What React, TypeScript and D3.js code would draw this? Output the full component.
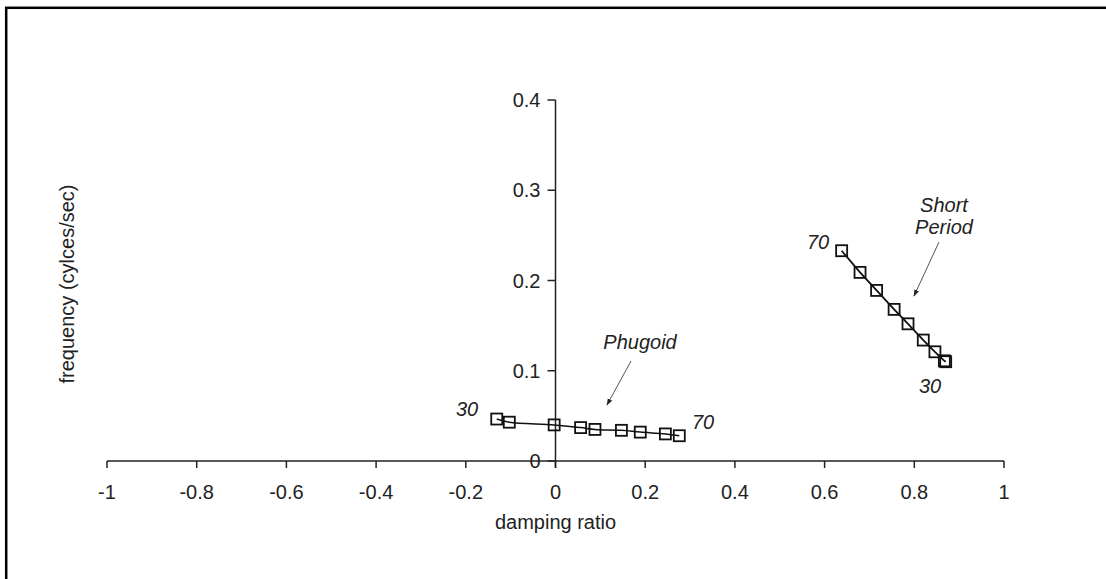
import React from "react";
import * as d3 from "d3";

const xTicks = [-1, -0.8, -0.6, -0.4, -0.2, 0, 0.2, 0.4, 0.6, 0.8, 1];
const yTicks = [0, 0.1, 0.2, 0.3, 0.4];

// Phugoid mode (speed 30 -> 70)
const phugoidDamping = [-0.131, -0.103, -0.003, 0.056, 0.088, 0.147, 0.189, 0.245, 0.276];
const phugoidFreq = [0.0465, 0.043, 0.040, 0.037, 0.035, 0.034, 0.032, 0.030, 0.028];

// Short period mode (speed 70 -> 30)
const shortDamping = [0.638, 0.679, 0.716, 0.755, 0.786, 0.82, 0.846, 0.867, 0.87];
const shortFreq = [0.233, 0.209, 0.189, 0.168, 0.152, 0.134, 0.121, 0.111, 0.110];

const W = 1106;
const H = 579;

export default function App() {
  const x = d3.scaleLinear().domain([-1, 1]).range([107, 1004]);
  const y = d3.scaleLinear().domain([0, 0.4]).range([461, 100]);
  const font = "'Liberation Sans', Arial, sans-serif";

  const phugoid = phugoidDamping.map((d, i) => [d, phugoidFreq[i]] as [number, number]);
  const shortP = shortDamping.map((d, i) => [d, shortFreq[i]] as [number, number]);

  const curveLine = d3
    .line<[number, number]>()
    .x((d) => x(d[0]))
    .y((d) => y(d[1]))
    .curve(d3.curveCatmullRom);
  const straightLine = d3
    .line<[number, number]>()
    .x((d) => x(d[0]))
    .y((d) => y(d[1]));

  const sq = 11;
  const squares = (pts: [number, number][], key: string) =>
    pts.map((p, i) => (
      <rect
        key={key + i}
        x={x(p[0]) - sq / 2}
        y={y(p[1]) - sq / 2}
        width={sq}
        height={sq}
        fill="none"
        stroke="#111"
        strokeWidth={1.8}
      />
    ));

  const x0 = x(0);
  const y0 = y(0);

  return (
    <svg
      width={W}
      height={H}
      style={{ position: "absolute", left: 0, top: 0, background: "#fff" }}
      fontFamily={font}
    >
      <defs>
        <marker id="ah" viewBox="0 0 10 10" refX="9" refY="5" markerWidth="7" markerHeight="7" orient="auto">
          <path d="M0,1.5 L10,5 L0,8.5 z" fill="#222" />
        </marker>
      </defs>
      <rect x={0} y={0} width={W} height={H} fill="#fff" />
      <rect x={6.2} y={7.8} width={W + 20} height={H + 20} fill="none" stroke="#000" strokeWidth={2.5} />

      {/* x axis */}
      <line x1={x(-1)} x2={x(1)} y1={y0} y2={y0} stroke="#222" strokeWidth={1.5} />
      {xTicks.map((t) => (
        <g key={"xt" + t}>
          <line x1={x(t)} x2={x(t)} y1={y0} y2={y0 + 7} stroke="#222" strokeWidth={1.5} />
          <text x={x(t)} y={y0 + 38} textAnchor="middle" fontSize={20} fill="#222">
            {String(t)}
          </text>
        </g>
      ))}

      {/* y axis */}
      <line x1={x0} x2={x0} y1={y(0.4)} y2={y0 + 7} stroke="#222" strokeWidth={1.5} />
      {yTicks.map((t) => (
        <g key={"yt" + t}>
          <line x1={x0 - 8} x2={x0} y1={y(t)} y2={y(t)} stroke="#222" strokeWidth={1.5} />
          <text x={x0 - 15} y={y(t) + 7} textAnchor="end" fontSize={20} fill="#222">
            {String(t)}
          </text>
        </g>
      ))}

      <text x={x0} y={529} textAnchor="middle" fontSize={20} fill="#222">
        damping ratio
      </text>
      <text transform="translate(74,284) rotate(-90)" textAnchor="middle" fontSize={20} fill="#222">
        frequency (cylces/sec)
      </text>

      {/* series */}
      <path d={curveLine(phugoid) || ""} fill="none" stroke="#111" strokeWidth={1.5} />
      {squares(phugoid, "p")}
      <path d={straightLine(shortP) || ""} fill="none" stroke="#111" strokeWidth={1.8} />
      {squares(shortP, "s")}

      {/* annotations */}
      <g fontStyle="italic" fontSize={20} fill="#222">
        <text x={640} y={349} textAnchor="middle">Phugoid</text>
        <text x={944} y={212} textAnchor="middle">Short</text>
        <text x={944} y={234} textAnchor="middle">Period</text>
        <text x={467} y={416} textAnchor="middle">30</text>
        <text x={703} y={429} textAnchor="middle">70</text>
        <text x={818} y={249} textAnchor="middle">70</text>
        <text x={930} y={393} textAnchor="middle">30</text>
      </g>
      <line x1={631} y1={361} x2={607} y2={405} stroke="#555" strokeWidth={1} markerEnd="url(#ah)" />
      <line x1={939} y1={242} x2={914} y2={296} stroke="#555" strokeWidth={1} markerEnd="url(#ah)" />
    </svg>
  );
}
